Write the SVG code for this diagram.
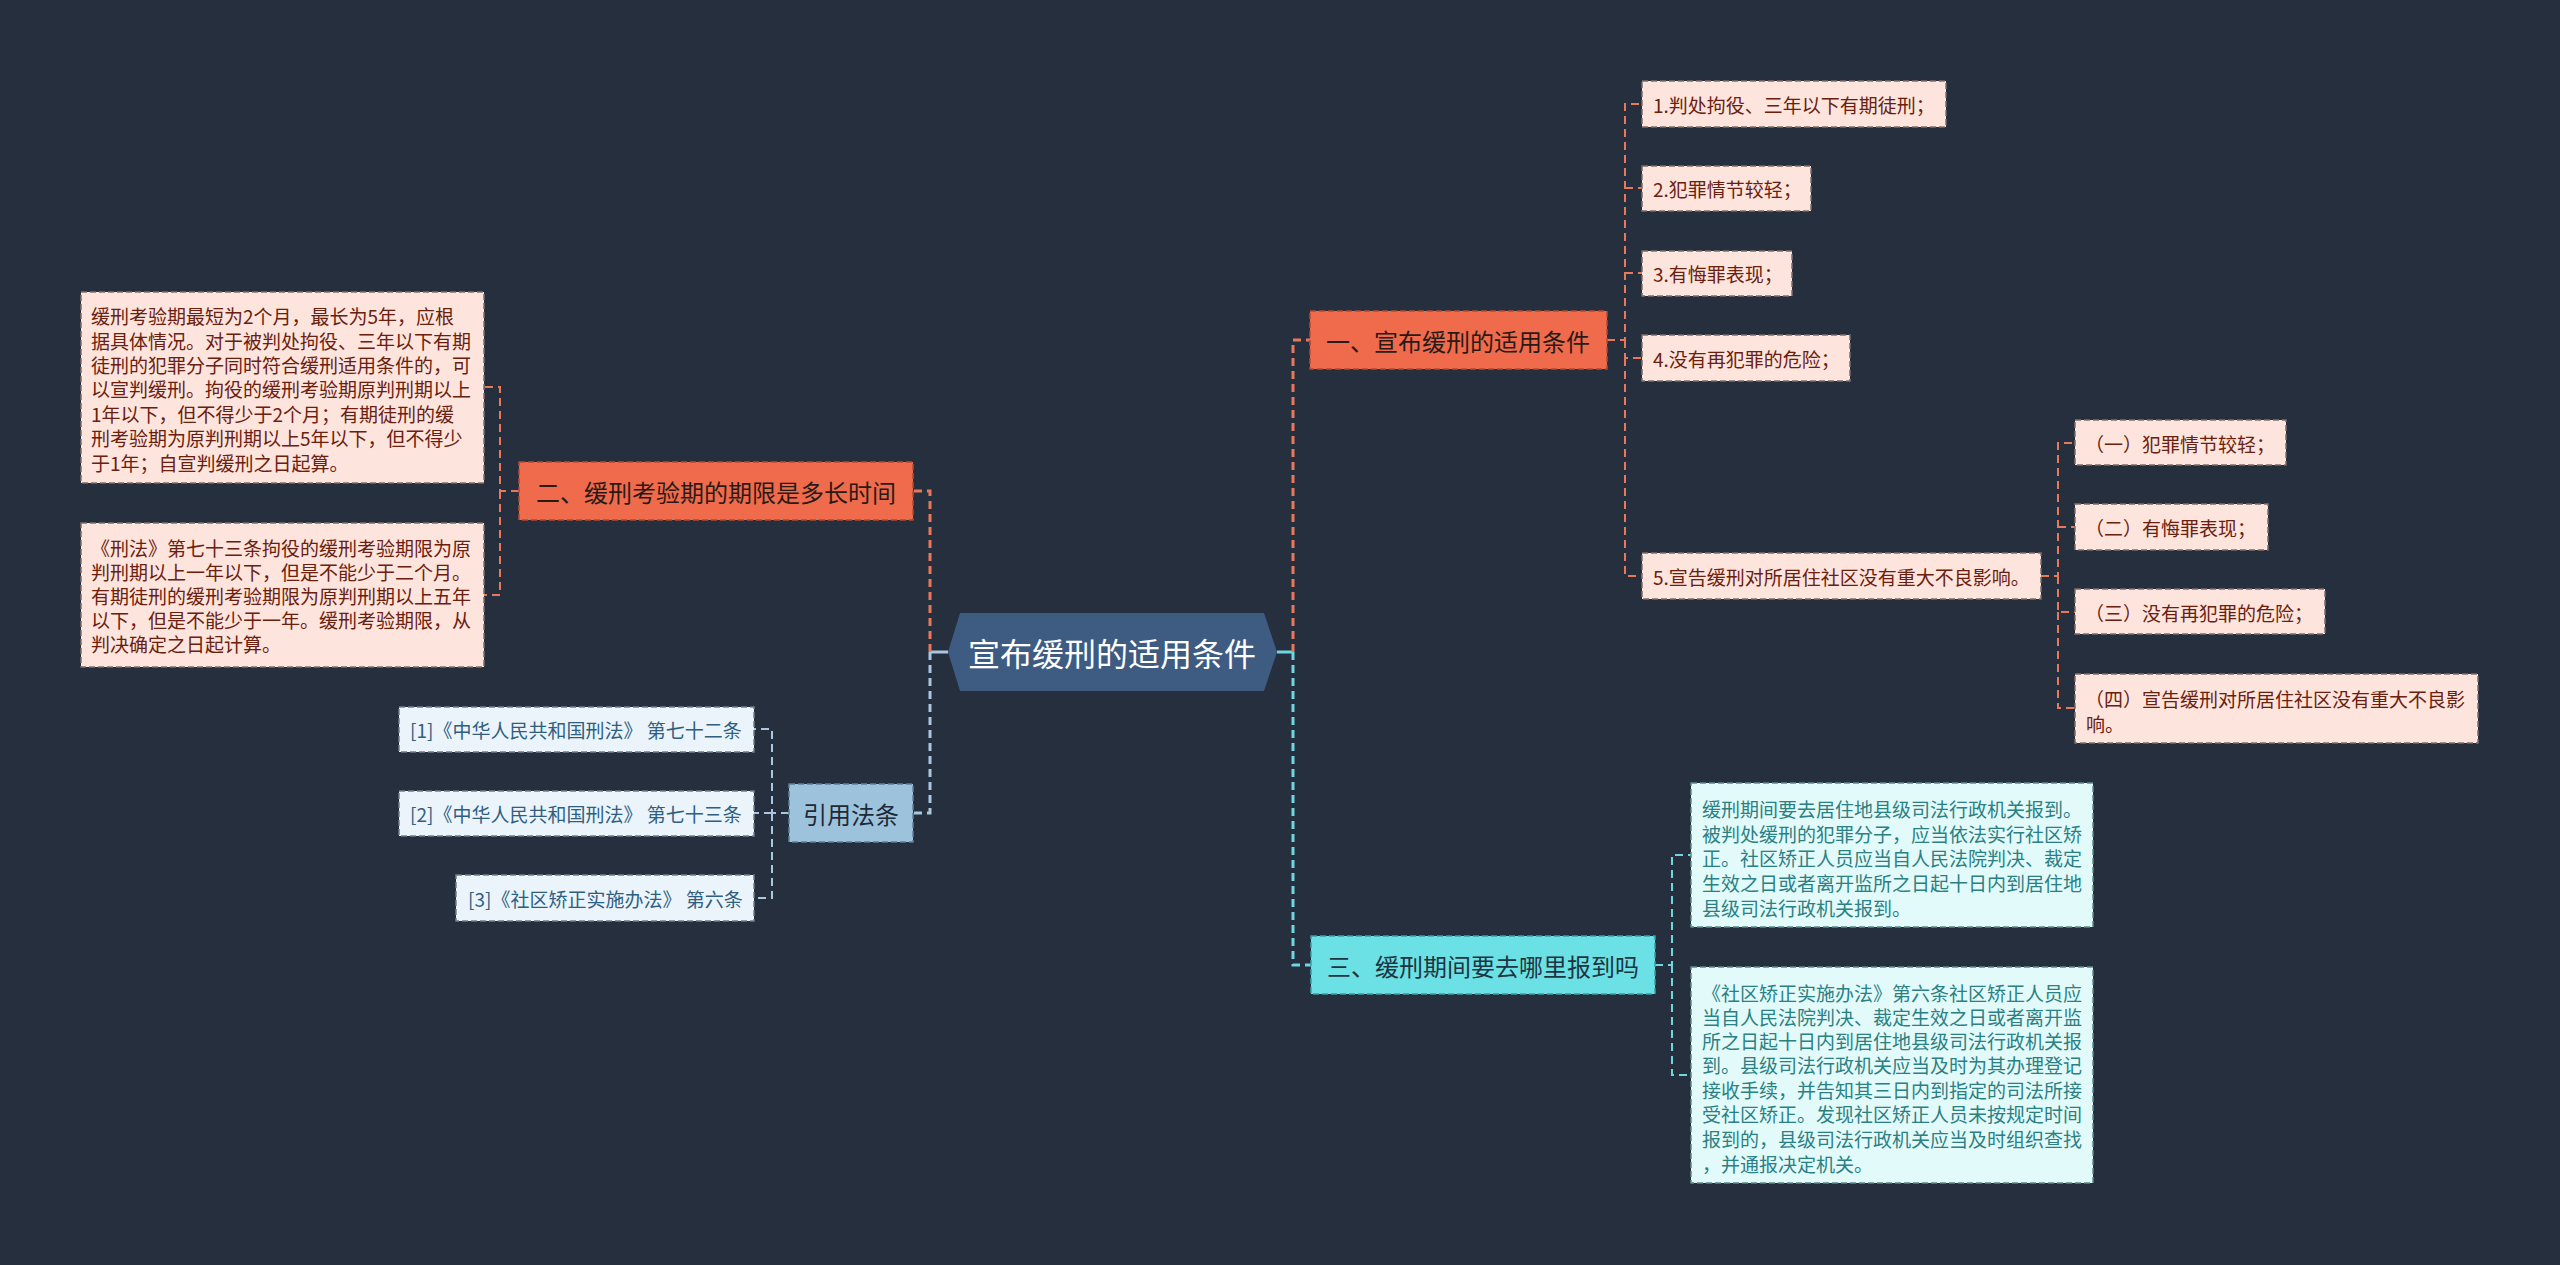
<svg xmlns="http://www.w3.org/2000/svg" width="2560" height="1265" viewBox="0 0 2560 1265">
<style>
text{font-family:"Noto Sans CJK SC","Noto Sans",sans-serif;dominant-baseline:central}
.conn path{fill:none;stroke-dasharray:8 5}
.or{stroke:#e9785a}
.lb{stroke:#a9c7de}
.cy{stroke:#6ed6df}
.w3{stroke-width:3}
.w2{stroke-width:2}
.stub{stroke-dasharray:none!important}
.bo{fill:#f06b4b;stroke:#b54a31;stroke-width:1.5;stroke-dasharray:6 3}
.lo{fill:#fde4dc;stroke:#7d6e6a;stroke-width:1.5;stroke-dasharray:6 3}
.bb{fill:#9dc3dc;stroke:#5f7f95;stroke-width:1.5;stroke-dasharray:6 3}
.lbx{fill:#eaf4fa;stroke:#6f7f8a;stroke-width:1.5;stroke-dasharray:6 3}
.bc{fill:#6be0e5;stroke:#3a9ea5;stroke-width:1.5;stroke-dasharray:6 3}
.lc{fill:#e2fafa;stroke:#5f8a8c;stroke-width:1.5;stroke-dasharray:6 3}
.tbo{font-size:24px;fill:#2a1a16;text-anchor:middle}
.tlo{font-size:19px;fill:#6b200f}
.tbb{font-size:24px;fill:#1e2a36;text-anchor:middle}
.tlb{font-size:19px;fill:#2e5f82}
.tbc{font-size:24px;fill:#1d3540;text-anchor:middle}
.tlc{font-size:19px;fill:#2a8083}
</style>
<rect x="0" y="0" width="2560" height="1265" fill="#262f3e"/>

<g id="connectors" class="conn">
  <path class="lb w3 stub" d="M948 652 H930"/>
  <path class="cy w3 stub" d="M1277 652 H1293"/>
  <path class="or w3" d="M930 652 V491 H913"/>
  <path class="lb w3" d="M930 652 V813 H913"/>
  <path class="or w3" d="M1293 652 V340 H1310"/>
  <path class="cy w3" d="M1293 652 V965 H1311"/>
  <path class="or w2" d="M519 491 H500 V387 H484"/>
  <path class="or w2" d="M500 491 V595 H484"/>
  <path class="lb w2" d="M789 813 H772 V729 H754"/>
  <path class="lb w2" d="M772 813 H754"/>
  <path class="lb w2" d="M772 813 V898 H754"/>
  <path class="or w2" d="M1607 340 H1625 V104 H1642"/>
  <path class="or w2" d="M1625 188 H1642"/>
  <path class="or w2" d="M1625 273 H1642"/>
  <path class="or w2" d="M1625 340 V358 H1642"/>
  <path class="or w2" d="M1625 358 V576 H1642"/>
  <path class="or w2" d="M2041 576 H2058 V443 H2075"/>
  <path class="or w2" d="M2058 527 H2075"/>
  <path class="or w2" d="M2058 576 V612 H2075"/>
  <path class="or w2" d="M2058 612 V708 H2075"/>
  <path class="cy w2" d="M1655 965 H1672 V855 H1691"/>
  <path class="cy w2" d="M1672 965 V1075 H1691"/>
</g>

<g id="root">
  <polygon points="948,652 960,613 1264,613 1277,652 1264,691 960,691" fill="#3e5b82"/>
  <text x="1112" y="652" font-size="32" fill="#ffffff" text-anchor="middle">宣布缓刑的适用条件</text>
</g>

<g id="branch2">
  <rect class="bo" x="519" y="462" width="394" height="58"/>
  <text class="tbo" x="716" y="491">二、缓刑考验期的期限是多长时间</text>
</g>
<g id="leaf2a">
  <rect class="lo" x="81" y="292" width="403" height="191"/>
  <text class="tlo" x="91" y="315">缓刑考验期最短为2个月，最长为5年，应根</text>
  <text class="tlo" x="91" y="340">据具体情况。对于被判处拘役、三年以下有期</text>
  <text class="tlo" x="91" y="364">徒刑的犯罪分子同时符合缓刑适用条件的，可</text>
  <text class="tlo" x="91" y="388">以宣判缓刑。拘役的缓刑考验期原判刑期以上</text>
  <text class="tlo" x="91" y="413">1年以下，但不得少于2个月；有期徒刑的缓</text>
  <text class="tlo" x="91" y="437">刑考验期为原判刑期以上5年以下，但不得少</text>
  <text class="tlo" x="91" y="462">于1年；自宣判缓刑之日起算。</text>
</g>
<g id="leaf2b">
  <rect class="lo" x="81" y="523" width="403" height="144"/>
  <text class="tlo" x="91" y="547">《刑法》第七十三条拘役的缓刑考验期限为原</text>
  <text class="tlo" x="91" y="571">判刑期以上一年以下，但是不能少于二个月。</text>
  <text class="tlo" x="91" y="595">有期徒刑的缓刑考验期限为原判刑期以上五年</text>
  <text class="tlo" x="91" y="619">以下，但是不能少于一年。缓刑考验期限，从</text>
  <text class="tlo" x="91" y="643">判决确定之日起计算。</text>
</g>

<g id="refs">
  <rect class="bb" x="789" y="784" width="124" height="58"/>
  <text class="tbb" x="851" y="813">引用法条</text>
</g>
<g id="ref1">
  <rect class="lbx" x="399" y="707" width="355" height="45"/>
  <text class="tlb" x="410" y="729">[1]《中华人民共和国刑法》 第七十二条</text>
</g>
<g id="ref2">
  <rect class="lbx" x="399" y="791" width="355" height="45"/>
  <text class="tlb" x="410" y="813">[2]《中华人民共和国刑法》 第七十三条</text>
</g>
<g id="ref3">
  <rect class="lbx" x="456" y="875" width="298" height="46"/>
  <text class="tlb" x="468" y="898">[3]《社区矫正实施办法》 第六条</text>
</g>

<g id="branch1">
  <rect class="bo" x="1310" y="311" width="297" height="58"/>
  <text class="tbo" x="1458" y="340">一、宣布缓刑的适用条件</text>
</g>
<g id="leaf1-1">
  <rect class="lo" x="1642" y="81" width="304" height="46"/>
  <text class="tlo" x="1653" y="104">1.判处拘役、三年以下有期徒刑；</text>
</g>
<g id="leaf1-2">
  <rect class="lo" x="1642" y="166" width="169" height="45"/>
  <text class="tlo" x="1653" y="188">2.犯罪情节较轻；</text>
</g>
<g id="leaf1-3">
  <rect class="lo" x="1642" y="251" width="150" height="45"/>
  <text class="tlo" x="1653" y="273">3.有悔罪表现；</text>
</g>
<g id="leaf1-4">
  <rect class="lo" x="1642" y="335" width="208" height="46"/>
  <text class="tlo" x="1653" y="358">4.没有再犯罪的危险；</text>
</g>
<g id="leaf1-5">
  <rect class="lo" x="1642" y="553" width="399" height="46"/>
  <text class="tlo" x="1653" y="576">5.宣告缓刑对所居住社区没有重大不良影响。</text>
</g>
<g id="sub1">
  <rect class="lo" x="2075" y="420" width="211" height="45"/>
  <text class="tlo" x="2085" y="443">（一）犯罪情节较轻；</text>
</g>
<g id="sub2">
  <rect class="lo" x="2075" y="504" width="193" height="46"/>
  <text class="tlo" x="2085" y="527">（二）有悔罪表现；</text>
</g>
<g id="sub3">
  <rect class="lo" x="2075" y="589" width="250" height="45"/>
  <text class="tlo" x="2085" y="612">（三）没有再犯罪的危险；</text>
</g>
<g id="sub4">
  <rect class="lo" x="2075" y="674" width="403" height="69"/>
  <text class="tlo" x="2085" y="698">（四）宣告缓刑对所居住社区没有重大不良影</text>
  <text class="tlo" x="2086" y="723">响。</text>
</g>

<g id="branch3">
  <rect class="bc" x="1311" y="936" width="344" height="58"/>
  <text class="tbc" x="1483" y="965">三、缓刑期间要去哪里报到吗</text>
</g>
<g id="leaf3-1">
  <rect class="lc" x="1691" y="783" width="402" height="144"/>
  <text class="tlc" x="1702" y="808">缓刑期间要去居住地县级司法行政机关报到。</text>
  <text class="tlc" x="1702" y="833">被判处缓刑的犯罪分子，应当依法实行社区矫</text>
  <text class="tlc" x="1702" y="857">正。社区矫正人员应当自人民法院判决、裁定</text>
  <text class="tlc" x="1702" y="882">生效之日或者离开监所之日起十日内到居住地</text>
  <text class="tlc" x="1702" y="907">县级司法行政机关报到。</text>
</g>
<g id="leaf3-2">
  <rect class="lc" x="1691" y="967" width="402" height="216"/>
  <text class="tlc" x="1702" y="992">《社区矫正实施办法》第六条社区矫正人员应</text>
  <text class="tlc" x="1702" y="1016">当自人民法院判决、裁定生效之日或者离开监</text>
  <text class="tlc" x="1702" y="1040">所之日起十日内到居住地县级司法行政机关报</text>
  <text class="tlc" x="1702" y="1064">到。县级司法行政机关应当及时为其办理登记</text>
  <text class="tlc" x="1702" y="1089">接收手续，并告知其三日内到指定的司法所接</text>
  <text class="tlc" x="1702" y="1113">受社区矫正。发现社区矫正人员未按规定时间</text>
  <text class="tlc" x="1702" y="1138">报到的，县级司法行政机关应当及时组织查找</text>
  <text class="tlc" x="1702" y="1163">，并通报决定机关。</text>
</g>
</svg>
